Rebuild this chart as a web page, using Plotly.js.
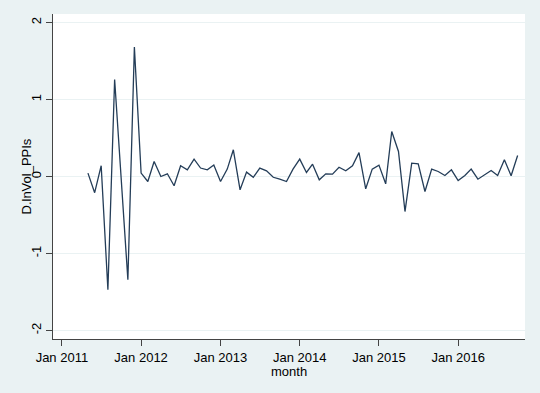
<!DOCTYPE html>
<html>
<head>
<meta charset="utf-8">
<script src="https://cdn.plot.ly/plotly-3.0.1.min.js"></script>
<style>
  html, body { margin: 0; padding: 0; background: #EAF2F3; }
  #chart { width: 540px; height: 393px; }
</style>
</head>
<body>
<div id="chart"></div>
<script>
const months = [
  "2011-05","2011-06","2011-07","2011-08","2011-09","2011-10","2011-11","2011-12",
  "2012-01","2012-02","2012-03","2012-04","2012-05","2012-06","2012-07","2012-08","2012-09","2012-10","2012-11","2012-12",
  "2013-01","2013-02","2013-03","2013-04","2013-05","2013-06","2013-07","2013-08","2013-09","2013-10","2013-11","2013-12",
  "2014-01","2014-02","2014-03","2014-04","2014-05","2014-06","2014-07","2014-08","2014-09","2014-10","2014-11","2014-12",
  "2015-01","2015-02","2015-03","2015-04","2015-05","2015-06","2015-07","2015-08","2015-09","2015-10","2015-11","2015-12",
  "2016-01","2016-02","2016-03","2016-04","2016-05","2016-06","2016-07","2016-08","2016-09","2016-10"
];

const dlnVolPPIs = [
  0.044, -0.21, 0.14, -1.47, 1.26, -0.04, -1.34, 1.68,
  0.044, -0.065, 0.195, 0.0, 0.035, -0.12, 0.14, 0.087, 0.226, 0.11, 0.087, 0.15,
  -0.065, 0.096, 0.347, -0.173, 0.057, -0.01, 0.11, 0.074, -0.01, -0.035, -0.065, 0.096,
  0.226, 0.052, 0.16, -0.043, 0.035, 0.03, 0.12, 0.074, 0.14, 0.31, -0.16, 0.096,
  0.148, -0.095, 0.585, 0.325, -0.455, 0.174, 0.165, -0.195, 0.096, 0.065, 0.013, 0.087,
  -0.052, 0.013, 0.096, -0.035, 0.022, 0.078, 0.013, 0.217, 0.009, 0.273
];

const xTickVals = ["2011-01-01","2012-01-01","2013-01-01","2014-01-01","2015-01-01","2016-01-01"];
const xTickText = ["Jan 2011","Jan 2012","Jan 2013","Jan 2014","Jan 2015","Jan 2016"];
const yTickVals = [-2, -1, 0, 1, 2];
const yTickText = ["-2", "-1", "0", "1", "2"];

const trace = {
  x: months,
  y: dlnVolPPIs,
  type: "scatter",
  mode: "lines",
  line: { color: "#243D58", width: 1.3 },
  hoverinfo: "x+y"
};

const fontFam = "Liberation Sans, Arial, sans-serif";

const layout = {
  width: 540,
  height: 393,
  paper_bgcolor: "#EAF2F3",
  plot_bgcolor: "#FFFFFF",
  margin: { l: 53, r: 15, t: 14, b: 54 },
  showlegend: false,
  font: { family: fontFam, size: 13, color: "#000000" },
  xaxis: {
    type: "date",
    range: ["2010-11-21", "2016-11-04"],
    tickmode: "array",
    tickvals: xTickVals,
    ticktext: xTickText,
    ticks: "outside",
    ticklen: 6,
    tickwidth: 1,
    tickcolor: "#444444",
    showline: true,
    linecolor: "#444444",
    linewidth: 1,
    showgrid: false,
    zeroline: false,
    tickfont: { family: fontFam, size: 13, color: "#000000" }
  },
  yaxis: {
    range: [-2.11, 2.11],
    tickmode: "array",
    tickvals: yTickVals,
    ticktext: yTickText,
    tickangle: -90,
    ticks: "outside",
    ticklen: 6,
    tickwidth: 1,
    tickcolor: "#444444",
    showline: true,
    linecolor: "#444444",
    linewidth: 1,
    showgrid: true,
    gridcolor: "#EAF2F3",
    gridwidth: 1,
    zeroline: false,
    tickfont: { family: fontFam, size: 13, color: "#000000" }
  },
  annotations: [
    {
      text: "month",
      xref: "paper", yref: "paper",
      x: 0.5, y: 0,
      xanchor: "center", yanchor: "middle",
      yshift: -32,
      showarrow: false,
      font: { family: fontFam, size: 13, color: "#000000" }
    },
    {
      text: "D.lnVol_PPIs",
      xref: "paper", yref: "paper",
      x: 0, y: 0.5,
      xanchor: "center", yanchor: "middle",
      xshift: -27,
      textangle: -90,
      showarrow: false,
      font: { family: fontFam, size: 13, color: "#000000" }
    }
  ]
};

Plotly.newPlot("chart", [trace], layout, { displayModeBar: false, staticPlot: true });
</script>
</body>
</html>
